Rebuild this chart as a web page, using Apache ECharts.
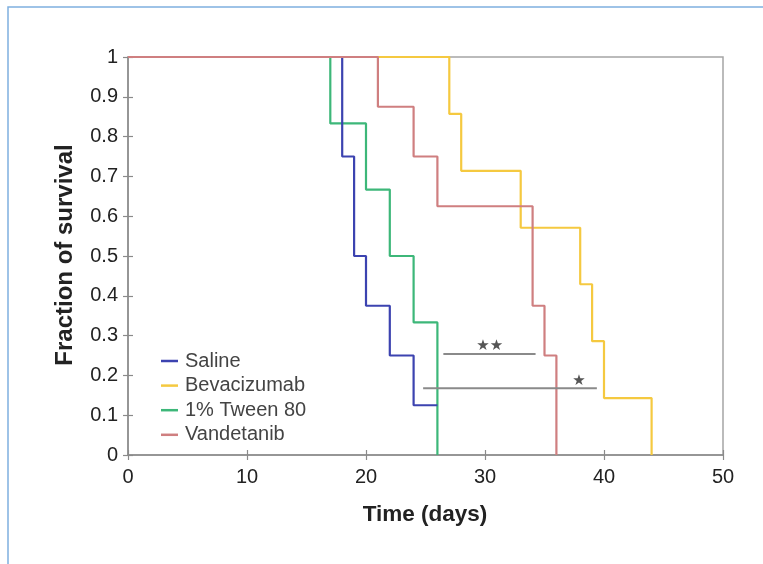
<!DOCTYPE html>
<html>
<head>
<meta charset="utf-8">
<script src="https://cdn.jsdelivr.net/npm/echarts@6/dist/echarts.min.js"></script>
<style>html,body{margin:0;padding:0;background:#fff}#c{width:763px;height:564px}</style>
</head>
<body>
<div id="c"></div>
<script>
// Kaplan–Meier step data (time in days, fraction surviving after that time)
const salineT = [0, 18, 19, 20, 22, 24, 26];
const salineS = [1, 0.75, 0.5, 0.375, 0.25, 0.125, 0.125];
const bevaT = [0, 27, 28, 33, 38, 39, 40, 44];
const bevaS = [1, 0.857, 0.714, 0.571, 0.429, 0.286, 0.143, 0];
const tweenT = [0, 17, 20, 22, 24, 26];
const tweenS = [1, 0.833, 0.667, 0.5, 0.333, 0];
const vandT = [0, 21, 24, 26, 34, 35, 36];
const vandS = [1, 0.875, 0.75, 0.625, 0.375, 0.25, 0];
const seriesNames = ['Saline', 'Bevacizumab', '1% Tween 80', 'Vandetanib'];
// significance bars: [xStart, xEnd, y], label
const sig2X = [26.5, 34.25], sig2Y = 0.254, sig2Label = '★★';
const sig1X = [24.8, 39.4], sig1Y = 0.168, sig1Label = '★';
const xTicks = [0, 50, 10];
const yTicks = [0, 1, 0.1];

const zip = (t, s) => t.map((v, i) => [v, s[i]]);
const colors = {
  'Saline': '#3c43b0',
  'Bevacizumab': '#f5c940',
  '1% Tween 80': '#3db779',
  'Vandetanib': '#cf7f80'
};
function km(name, t, s) {
  return {
    name, type: 'line', step: 'end', data: zip(t, s), symbol: 'none',
    lineStyle: { color: colors[name], width: 2.2 }, itemStyle: { color: colors[name] },
    xAxisIndex: 0, yAxisIndex: 0, z: 3
  };
}
function sigLine(xs, y, label, lx) {
  return [{
    type: 'line', data: [[xs[0], y], [xs[1], y]], symbol: 'none', silent: true,
    lineStyle: { color: '#8a8a8a', width: 2 }, z: 4
  }, {
    type: 'scatter', data: [[lx, y]], symbolSize: 0, silent: true, z: 5,
    label: { show: true, position: 'top', distance: 0, formatter: label, color: '#2a2a2a', fontSize: 15, fontFamily: 'DejaVu Sans' }
  }];
}
const chart = echarts.init(document.getElementById('c'));
const axisTxt = { color: '#222', fontSize: 20, fontFamily: 'Liberation Sans, Arial, sans-serif' };
const tickStyle = { color: '#8a8a8a', width: 1.2 };
const hiddenLine = { show: true, onZero: true, lineStyle: { opacity: 0 } };
chart.setOption({
  animation: false,
  backgroundColor: '#fff',
  grid: { left: 128, right: 40, top: 57, bottom: 109, show: true, borderColor: '#a5a5a5', borderWidth: 1.5 },
  xAxis: [{
    type: 'value', min: xTicks[0], max: xTicks[1], interval: xTicks[2],
    axisLine: { onZero: true, lineStyle: { color: '#8a8a8a', width: 1.5 } },
    axisTick: { show: true, length: 5, lineStyle: tickStyle },
    axisLabel: Object.assign({ margin: 12 }, axisTxt),
    splitLine: { show: false }
  }, {
    // second axis placed on the first one's zero line, ticks pointing up into the plot
    type: 'value', min: xTicks[0], max: xTicks[1], interval: xTicks[2], position: 'top',
    axisLine: hiddenLine, axisLabel: { show: false }, splitLine: { show: false },
    axisTick: { show: true, length: 5, lineStyle: tickStyle }
  }],
  yAxis: [{
    type: 'value', min: yTicks[0], max: yTicks[1], interval: yTicks[2],
    axisLine: { show: true, onZero: true, lineStyle: { color: '#8a8a8a', width: 1.5 } },
    axisTick: { show: true, length: 5, lineStyle: tickStyle },
    axisLabel: Object.assign({ margin: 10 }, axisTxt),
    splitLine: { show: false }
  }, {
    type: 'value', min: yTicks[0], max: yTicks[1], interval: yTicks[2], position: 'right',
    axisLine: hiddenLine, axisLabel: { show: false }, splitLine: { show: false },
    axisTick: { show: true, length: 5, lineStyle: tickStyle }
  }],
  legend: {
    data: seriesNames.map(n => ({ name: n, icon: 'rect' })),
    orient: 'vertical', left: 156, top: 346, itemWidth: 17, itemHeight: 2.5, itemGap: 4.6,
    textStyle: { color: '#444', fontSize: 20, lineHeight: 20, fontFamily: 'Liberation Sans, Arial, sans-serif', padding: [0, 0, 0, 2] }
  },
  graphic: [
    { type: 'rect', shape: { x: 8, y: 7, width: 800, height: 600 }, style: { fill: 'none', stroke: '#7fb0e0', lineWidth: 1.5 }, silent: true },
    { type: 'text', x: 65, y: 255, rotation: Math.PI / 2,
      style: { text: 'Fraction of survival', fill: '#222', font: 'bold 24px "Liberation Sans", Arial, sans-serif', textAlign: 'center', textVerticalAlign: 'middle' } },
    { type: 'text', x: 425, y: 515,
      style: { text: 'Time (days)', fill: '#222', font: 'bold 22.5px "Liberation Sans", Arial, sans-serif', textAlign: 'center', textVerticalAlign: 'middle' } }
  ],
  series: [
    km('Bevacizumab', bevaT, bevaS),
    km('1% Tween 80', tweenT, tweenS),
    km('Saline', salineT, salineS),
    km('Vandetanib', vandT, vandS),
    ...sigLine(sig2X, sig2Y, sig2Label, 30.4),
    ...sigLine(sig1X, sig1Y, sig1Label, 37.9)
  ]
});
</script>
</body>
</html>
